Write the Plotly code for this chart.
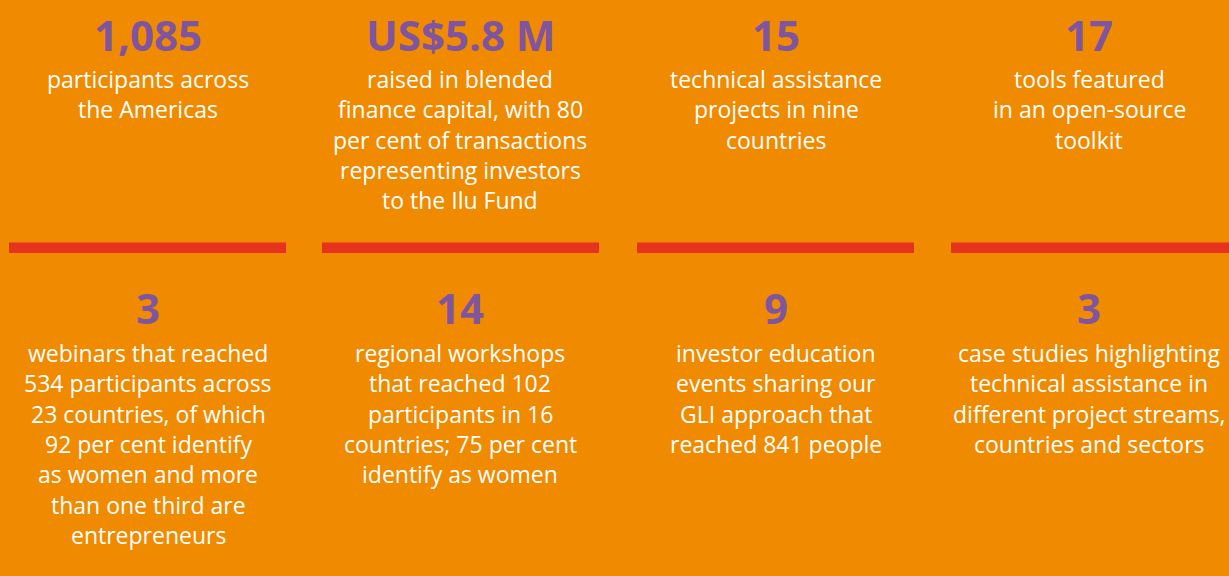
import plotly.graph_objects as go

# ---- data ----
top_numbers = ["1,085", "US$5.8 M", "15", "17"]
top_texts = [
    ["participants across", "the Americas"],
    ["raised in blended", "finance capital, with 80", "per cent of transactions",
     "representing investors", "to the Ilu Fund"],
    ["technical assistance", "projects in nine", "countries"],
    ["tools featured", "in an open-source", "toolkit"],
]
bottom_numbers = ["3", "14", "9", "3"]
bottom_texts = [
    ["webinars that reached", "534 participants across", "23 countries, of which",
     "92 per cent identify", "as women and more", "than one third are", "entrepreneurs"],
    ["regional workshops", "that reached 102", "participants in 16",
     "countries; 75 per cent", "identify as women"],
    ["investor education", "events sharing our", "GLI approach that", "reached 841 people"],
    ["case studies highlighting", "technical assistance in",
     "different project streams,", "countries and sectors"],
]

# ---- layout / style ----
W, H = 1229, 576
BG = "#F08A00"
PURPLE = "#7F55A0"
RED = "#E5331F"
col_centers = [148, 460, 776, 1089]
bar_spans = [(9, 286), (322, 599), (637, 914), (951, 1229)]
FONT = "Open Sans"
NUM_SIZE = 42
TXT_SIZE = 23
LINE_H = 30.3

fig = go.Figure()

annotations = []
def add_block(cx, num, lines, num_y, text_y0):
    annotations.append(dict(x=cx, y=num_y, text="<b>" + num + "</b>", showarrow=False,
                            xref="x", yref="y", xanchor="center", yanchor="middle",
                            font=dict(family=FONT, size=NUM_SIZE, color=PURPLE)))
    for i, ln in enumerate(lines):
        annotations.append(dict(x=cx, y=text_y0 + i * LINE_H, text=ln, showarrow=False,
                                xref="x", yref="y", xanchor="center", yanchor="middle",
                                font=dict(family=FONT, size=TXT_SIZE, color="white")))

for c, n, t in zip(col_centers, top_numbers, top_texts):
    add_block(c, n, t, 34, 79)
for c, n, t in zip(col_centers, bottom_numbers, bottom_texts):
    add_block(c, n, t, 307, 353)

shapes = []
for x0, x1 in bar_spans:
    shapes.append(dict(type="rect", xref="x", yref="y", x0=x0, x1=x1, y0=242.5, y1=253,
                       fillcolor=RED, line=dict(width=0), layer="above"))

fig.update_layout(
    width=W, height=H,
    margin=dict(l=0, r=0, t=0, b=0),
    paper_bgcolor=BG, plot_bgcolor=BG,
    xaxis=dict(range=[0, W], visible=False, fixedrange=True),
    yaxis=dict(range=[H, 0], visible=False, fixedrange=True),
    annotations=annotations, shapes=shapes, showlegend=False,
)
fig.write_html("out.html", config={"displayModeBar": False},
               post_script="document.body.style.margin='0';document.body.style.overflow='hidden';")
